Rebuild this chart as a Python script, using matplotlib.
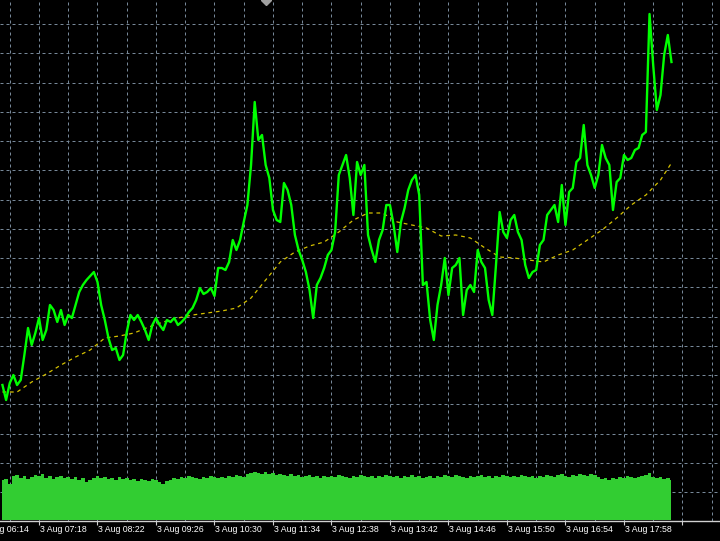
import numpy as np
import matplotlib
matplotlib.use("Agg")
import matplotlib.pyplot as plt
from matplotlib import font_manager
from matplotlib.ticker import MultipleLocator
import matplotlib.transforms as mtransforms

# minutes after 3 Aug 06:14, one sample every 4 minutes
minutes = np.arange(24, 757, 4)

price = [107, 92, 109, 117, 107, 112, 137, 164, 147, 159,
         174, 152, 162, 187, 182, 170, 182, 167, 177, 174,
         187, 200, 207, 212, 216, 220, 210, 187, 172, 154,
         142, 144, 132, 137, 160, 177, 172, 177, 170, 162,
         152, 167, 174, 167, 162, 172, 170, 174, 167, 170,
         174, 180, 184, 192, 204, 198, 200, 204, 196, 224,
         224, 222, 230, 252, 242, 252, 270, 287, 327, 390,
         352, 357, 327, 314, 282, 272, 270, 309, 302, 287,
         257, 242, 232, 220, 202, 174, 207, 214, 224, 237,
         242, 260, 317, 327, 337, 314, 277, 330, 317, 327,
         257, 242, 230, 252, 262, 287, 287, 267, 240, 270,
         284, 302, 312, 317, 297, 207, 210, 172, 152, 187,
         207, 234, 197, 224, 227, 234, 177, 202, 207, 200,
         242, 230, 224, 192, 177, 227, 280, 260, 254, 272,
         277, 260, 252, 227, 214, 220, 222, 247, 252, 277,
         282, 287, 270, 307, 267, 300, 304, 330, 334, 367,
         327, 317, 304, 317, 347, 334, 327, 282, 310, 314,
         337, 332, 334, 342, 344, 357, 360, 478, 427, 382,
         397, 437, 457, 430]

ma_minutes = [24, 40, 56, 72, 88, 104, 120, 136, 152, 168,
              184, 200, 216, 232, 248, 264, 280, 296, 312, 328,
              344, 360, 376, 392, 408, 424, 440, 456, 472, 488,
              504, 520, 536, 552, 568, 584, 600, 616, 632, 648,
              664, 680, 696, 712, 728, 744, 756]
ma = [100, 100, 110, 118, 127, 135, 142, 154, 156, 159,
      165, 170, 174, 177, 179, 181, 184, 194, 212, 230,
      240, 246, 250, 260, 272, 279, 279, 270, 267, 264,
      256, 257, 254, 244, 235, 234, 232, 230, 237, 242,
      252, 262, 274, 287, 297, 312, 329]

volume = [40, 41, 36, 44, 45, 42, 44, 41, 43, 45,
          44, 46, 42, 44, 41, 43, 44, 42, 43, 41,
          43, 40, 42, 38, 40, 42, 44, 42, 43, 41,
          42, 40, 43, 41, 42, 40, 41, 39, 41, 40,
          39, 41, 40, 38, 36, 39, 40, 42, 41, 43,
          42, 44, 43, 42, 41, 43, 42, 44, 43, 42,
          43, 42, 44, 43, 45, 44, 43, 46, 47, 48,
          47, 46, 48, 46, 47, 45, 46, 45, 44, 46,
          44, 45, 43, 44, 45, 43, 44, 42, 44, 43,
          44, 43, 45, 44, 43, 42, 44, 43, 45, 44,
          43, 44, 42, 44, 43, 45, 44, 43, 44, 42,
          44, 43, 45, 43, 44, 42, 43, 44, 42, 44,
          43, 45, 44, 43, 45, 44, 43, 42, 44, 43,
          44, 45, 43, 44, 42, 44, 43, 45, 44, 43,
          44, 43, 45, 44, 43, 44, 42, 44, 43, 45,
          44, 43, 45, 46, 44, 43, 45, 44, 46, 45,
          44, 46, 45, 43, 41, 42, 40, 42, 41, 43,
          42, 44, 43, 42, 43, 44, 45, 47, 43, 42,
          43, 41, 42, 40]

tick_labels = ["3 Aug 06:14", "3 Aug 07:18", "3 Aug 08:22", "3 Aug 09:26",
               "3 Aug 10:30", "3 Aug 11:34", "3 Aug 12:38", "3 Aug 13:42",
               "3 Aug 14:46", "3 Aug 15:50", "3 Aug 16:54", "3 Aug 17:58"]

names = {f.name for f in font_manager.fontManager.ttflist}
lab_font = "Liberation Sans Narrow" if "Liberation Sans Narrow" in names else "Liberation Sans"

fig = plt.figure(figsize=(7.2, 5.41), dpi=100, facecolor="black")
ax = fig.add_axes([0, 20 / 541, 1, 521 / 541])
ax.set_facecolor("black")

ax.set_xlim(21.33, 809.1)
ax.set_ylim(-29, 492)

grid_kw = dict(color="#778899", linewidth=0.72, linestyle=(0, (3, 3)))
ax.xaxis.set_major_locator(MultipleLocator(64))
ax.xaxis.set_minor_locator(MultipleLocator(32))
ax.yaxis.set_major_locator(MultipleLocator(29.25))
ax.grid(True, which="both", axis="x", **grid_kw)
ax.grid(True, which="major", axis="y", **grid_kw)
ax.set_axisbelow(True)

ax.tick_params(axis="x", which="major", length=3, width=0.8, color="#d0d0d0",
               labelbottom=False, direction="out")
ax.tick_params(axis="x", which="minor", length=0)
ax.tick_params(axis="y", length=0, labelleft=False)

for s in ["top", "left", "right"]:
    ax.spines[s].set_visible(False)
ax.spines["bottom"].set_color("#d0d0d0")
ax.spines["bottom"].set_linewidth(1.0)

ax.plot(ma_minutes, ma, color="#d4c000", linewidth=0.9, linestyle=(0, (3, 3)), zorder=3)
ax.plot(minutes, price, color="#00ff00", linewidth=1.7, zorder=4)

# volumes at the bottom, 1 unit = 1 px
ax2 = ax.twinx()
ax2.set_ylim(-1, 520)
ax2.fill_between(minutes, 0, volume, step="mid", color="#32cd32", linewidth=0)
ax2.set_axis_off()

# time labels (first one starts left of the window)
trans = mtransforms.offset_copy(ax.get_xaxis_transform(), fig=fig, x=1, y=0, units="dots")
for i, lab in enumerate(tick_labels):
    ax.text(64 * i, -9 / 521, lab, transform=trans, ha="left", va="center",
            color="white", fontsize=6.3, family=[lab_font, "DejaVu Sans"], clip_on=False)

# chart shift marker at the top
ax.plot([0.3695], [1.0], marker="D", markersize=5, color="#a0a0a0",
        transform=ax.transAxes, clip_on=False, zorder=5)

fig.savefig("out.png", dpi=100, facecolor="black")
